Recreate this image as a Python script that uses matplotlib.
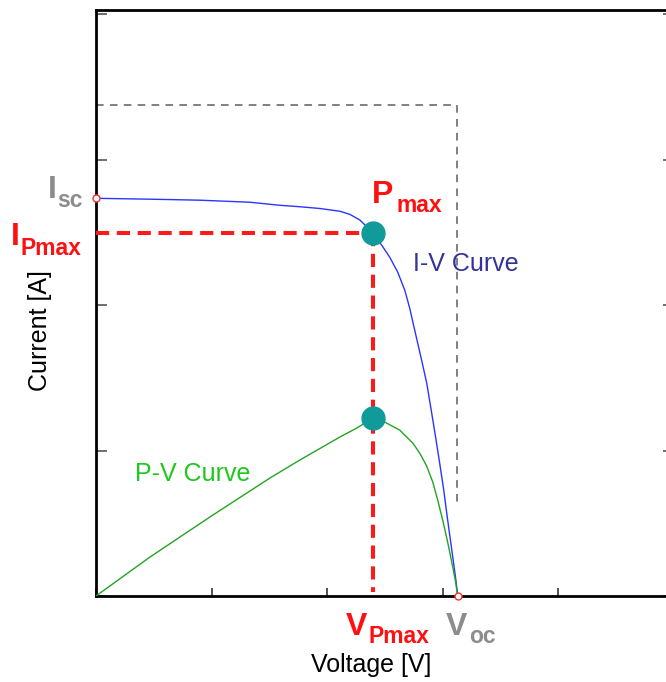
import matplotlib
matplotlib.use("Agg")
import matplotlib.pyplot as plt

plt.rcParams['font.family'] = ['Liberation Sans', 'DejaVu Sans']
plt.rcParams['lines.scale_dashes'] = False

# ---- data ----
iv_voltage = [0, 0.467, 0.899, 1.331, 1.590, 1.763, 1.936, 2.109, 2.195, 2.282, 2.342, 2.394,
              2.472, 2.541, 2.610, 2.671, 2.714, 2.757, 2.809, 2.861, 2.904, 2.939,
              2.973, 3.008, 3.034, 3.060, 3.086, 3.111, 3.129]
iv_current = [2.735, 2.729, 2.722, 2.708, 2.687, 2.677, 2.665, 2.646, 2.625, 2.586, 2.540, 2.495,
              2.412, 2.330, 2.227, 2.103, 1.979, 1.828, 1.649, 1.464, 1.258, 1.086,
              0.914, 0.729, 0.570, 0.419, 0.268, 0.124, 0.0]
pv_voltage = [0, 0.467, 0.985, 1.504, 1.763, 2.109, 2.256, 2.394, 2.498, 2.627, 2.740,
              2.800, 2.861, 2.913, 2.956, 2.999, 3.042, 3.086, 3.111, 3.129]
pv_power = [0, 0.268, 0.543, 0.811, 0.935, 1.093, 1.155, 1.223, 1.196, 1.141, 1.052,
            0.983, 0.893, 0.784, 0.660, 0.522, 0.371, 0.199, 0.096, 0.0]
v_mp = 2.394
i_mp = 2.495
p_max = 1.223
i_sc = 2.735
v_oc = 3.129
box_v = 3.12
box_top = 3.375
box_bottom = 0.625
x_ticks = [0, 1, 2, 3, 4, 5]
y_ticks = [0, 1, 2, 3, 4]

W, H = 666, 682
fig = plt.figure(figsize=(W / 100, H / 100), dpi=100)
ax = fig.add_axes([96 / W, 86 / H, 578 / W, 586 / H])
ax.set_xlim(0, 5)
ax.set_ylim(0, 4.03)
ax.set_xticks(x_ticks)
ax.set_yticks(y_ticks)
ax.set_xticklabels([])
ax.set_yticklabels([])
ax.tick_params(axis='x', direction='in', length=6, width=1.2, color='#333333')
ax.tick_params(axis='y', direction='in', length=8, width=1.2, color='#555555', right=True)
for s in ['left', 'bottom', 'top', 'right']:
    ax.spines[s].set_linewidth(2.0)
    ax.spines[s].set_color('black')

# gray dashed box
ax.plot([0, box_v, box_v], [box_top, box_top, box_bottom], color='#808080',
        lw=1.4, dashes=(5.5, 4.5), zorder=2)

# curves
ax.plot(iv_voltage, iv_current, color='#2a35ff', lw=1.0, zorder=3)
ax.plot(pv_voltage, pv_power, color='#23a323', lw=1.0, zorder=3)

# red dashed guides
ax.plot([0, v_mp], [i_mp, i_mp], color='#ff1a1a', lw=2.9, dashes=(9.5, 5.5), zorder=4)
ax.plot([v_mp, v_mp], [i_mp, 0.03], color='#ff1a1a', lw=2.9, dashes=(9.5, 5.5), zorder=4)

# max power markers
ax.plot([v_mp, v_mp], [i_mp, p_max], 'o', color='#109a9a', ms=16.5, zorder=5, ls='none')

# small hollow markers at Isc and Voc
ax.plot([0, v_oc], [i_sc, 0], 'o', ms=5, mfc='white', mec='#ff3030', mew=1.0,
        ls='none', zorder=6, clip_on=False)


def ft(x, y, s, size, color, weight='normal', **kw):
    fig.text(x / W, 1 - y / H, s, fontsize=size, color=color, fontweight=weight,
             ha='left', va='baseline', **kw)


gray = '#8c8c8c'
red = '#ff1010'
big, sub = 23, 16.5
# I_sc
ft(48, 198, 'I', big, gray, 'bold')
ft(57, 207, 'sc', sub, gray, 'bold')
# I_Pmax
ft(11, 245, 'I', big, red, 'bold')
ft(21, 255, 'Pmax', sub, red, 'bold')
# P_max
ft(372, 203, 'P', big, red, 'bold')
ft(396, 212, 'max', sub, red, 'bold')
# V_Pmax
ft(346, 635, 'V', big, red, 'bold')
ft(369, 643, 'Pmax', sub, red, 'bold')
# V_oc
ft(446, 635, 'V', big, gray, 'bold')
ft(469, 643, 'oc', sub, gray, 'bold')

# curve labels
ft(413, 271, 'I-V Curve', 18, '#333399')
ft(135, 481, 'P-V Curve', 18, '#1ec81e')

# axis labels
fig.text(371 / W, 1 - 665 / H, 'Voltage [V]', fontsize=18, ha='center', va='center')
fig.text(40 / W, 1 - 331 / H, 'Current [A]', fontsize=18, ha='center', va='center',
         rotation=90)

fig.savefig('out.png', dpi=100)
